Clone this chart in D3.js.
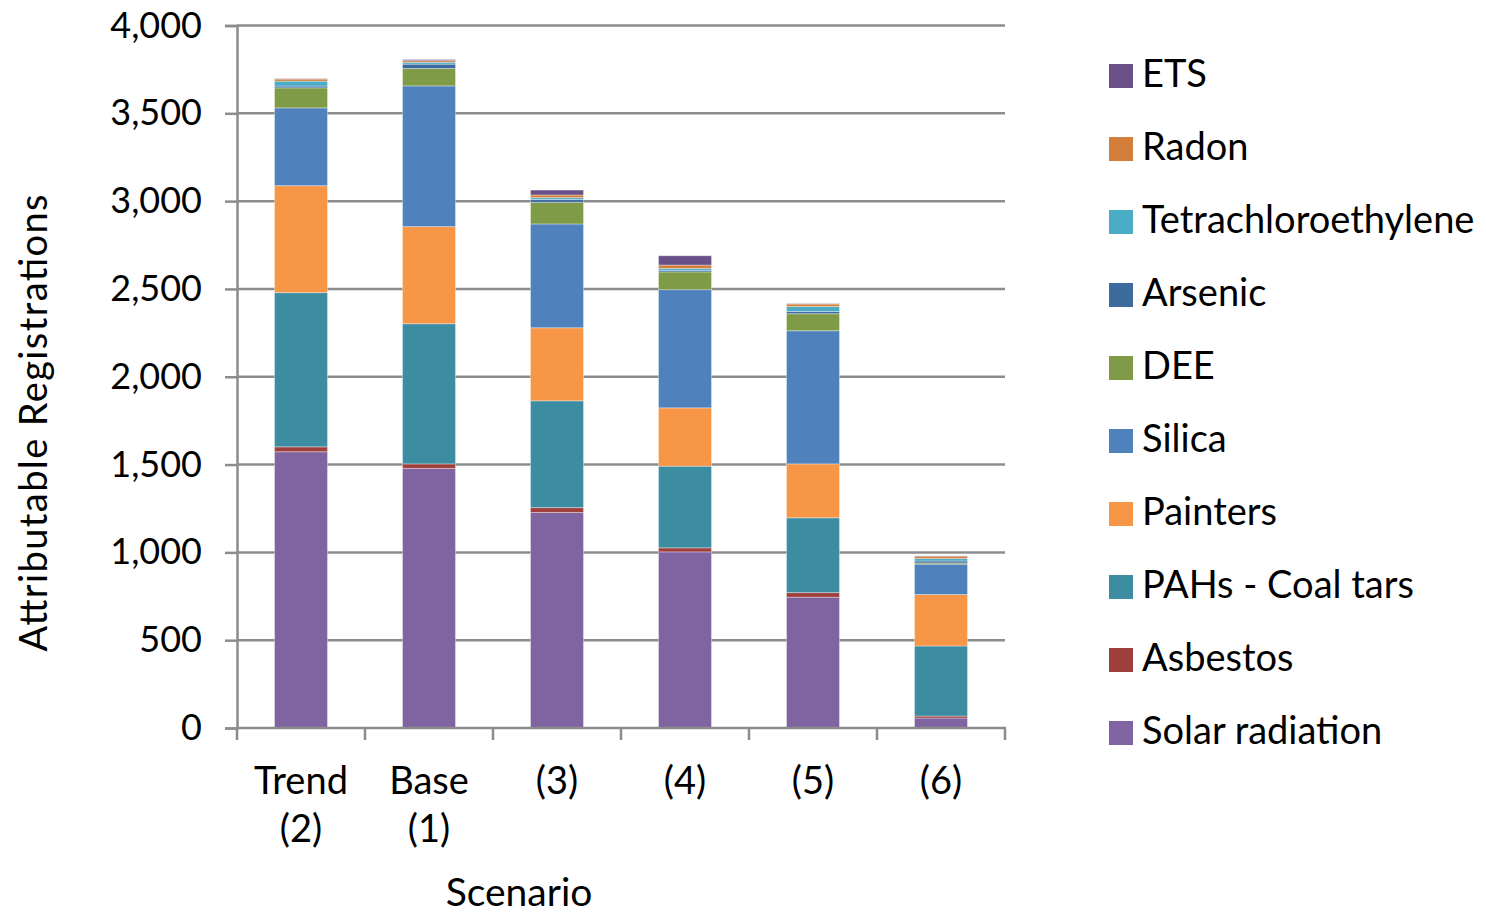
<!DOCTYPE html>
<html>
<head>
<meta charset="utf-8">
<script src="https://cdn.jsdelivr.net/npm/d3@7"></script>
<style>
  html, body { margin: 0; padding: 0; background: #fff; }
  svg { display: block; font-family: Lato, "Open Sans", sans-serif; }
</style>
</head>
<body>
<svg id="chart" width="1486" height="916"></svg>
<script>
// Scenarios along the x axis (two-line labels)
const scenarios = ["Trend (2)", "Base (1)", "(3)", "(4)", "(5)", "(6)"];
const scenarioLines = [["Trend", "(2)"], ["Base", "(1)"], ["(3)"], ["(4)"], ["(5)"], ["(6)"]];

// Attributable registrations per exposure, stacked bottom to top
const solarRadiation    = [1573, 1478, 1227, 1003, 745, 57];
const asbestos          = [28, 26, 28, 23, 26, 11];
const pahsCoalTars      = [878, 798, 608, 465, 426, 399];
const painters          = [609, 553, 416, 332, 307, 293];
const silica            = [443, 801, 591, 673, 758, 173];
const dee               = [114, 99, 123, 101, 97, 7];
const arsenic           = [10, 25, 16, 9, 13, 11];
const tetrachloroethylene = [28, 11, 11, 11, 28, 14];
const radon             = [12, 9, 15, 19, 14, 13];
const ets               = [2, 6, 28, 53, 2, 2];

const yTicks = [0, 500, 1000, 1500, 2000, 2500, 3000, 3500, 4000];

const seriesDefs = [
  { name: "Solar radiation", values: solarRadiation, color: "#8064A2" },
  { name: "Asbestos", values: asbestos, color: "#A0403D" },
  { name: "PAHs - Coal tars", values: pahsCoalTars, color: "#3C8CA2" },
  { name: "Painters", values: painters, color: "#F79646" },
  { name: "Silica", values: silica, color: "#4F81BD" },
  { name: "DEE", values: dee, color: "#7F9B48" },
  { name: "Arsenic", values: arsenic, color: "#3E6B9E" },
  { name: "Tetrachloroethylene", values: tetrachloroethylene, color: "#4BACC6" },
  { name: "Radon", values: radon, color: "#D27E3A" },
  { name: "ETS", values: ets, color: "#6A5088" }
];

const rows = scenarios.map((s, i) => {
  const r = { scenario: s };
  seriesDefs.forEach(d => { r[d.name] = d.values[i]; });
  return r;
});

const svg = d3.select("#chart");
const plot = { left: 237, right: 1005, top: 25.5, bottom: 728 };

const x = d3.scaleBand().domain(scenarios).range([plot.left, plot.right]).paddingInner(0.586).paddingOuter(0.293);
const y = d3.scaleLinear().domain([0, 4000]).range([plot.bottom, plot.top]);

const gridColor = "#8c8c8c";

// Horizontal gridlines
svg.append("g")
  .selectAll("line")
  .data(yTicks.filter(t => t > 0))
  .join("line")
  .attr("x1", plot.left).attr("x2", plot.right)
  .attr("y1", d => y(d)).attr("y2", d => y(d))
  .attr("stroke", gridColor).attr("stroke-width", 2.5);

// Stacked bars
const stack = d3.stack().keys(seriesDefs.map(d => d.name));
const layers = stack(rows);

svg.append("g")
  .selectAll("g")
  .data(layers)
  .join("g")
  .attr("fill", (d, i) => seriesDefs[i].color)
  .selectAll("rect")
  .data(d => d)
  .join("rect")
  .attr("x", d => x(d.data.scenario))
  .attr("width", x.bandwidth())
  .attr("y", d => y(d[1]))
  .attr("height", d => Math.max(0, y(d[0]) - y(d[1])))
  .attr("stroke", "rgba(255,255,255,0.35)")
  .attr("stroke-width", 1);

// Y axis
const yAxis = svg.append("g")
  .attr("transform", `translate(${plot.left},0)`)
  .call(d3.axisLeft(y).tickValues(yTicks).tickFormat(d3.format(",")).tickSize(12).tickPadding(23));
yAxis.select(".domain").attr("stroke", gridColor).attr("stroke-width", 2.5);
yAxis.selectAll(".tick line").attr("stroke", gridColor).attr("stroke-width", 2.5);
yAxis.selectAll(".tick text")
  .attr("font-size", 36).attr("fill", "#000")
  .attr("font-family", "Lato, sans-serif");

// X axis baseline with boundary ticks
const xAxisG = svg.append("g");
xAxisG.append("line")
  .attr("x1", plot.left - 1).attr("x2", plot.right + 1)
  .attr("y1", y(0)).attr("y2", y(0))
  .attr("stroke", gridColor).attr("stroke-width", 2.5);
const boundaries = scenarios.map(s => x(s) - x.step() * x.paddingInner() / 2)
  .concat([plot.right]);
boundaries[0] = plot.left;
xAxisG.selectAll("line.b")
  .data(boundaries)
  .join("line")
  .attr("class", "b")
  .attr("x1", d => d).attr("x2", d => d)
  .attr("y1", y(0)).attr("y2", y(0) + 12)
  .attr("stroke", gridColor).attr("stroke-width", 2.5);

// Category labels
scenarios.forEach((s, i) => {
  const cx = x(s) + x.bandwidth() / 2;
  scenarioLines[i].forEach((line, j) => {
    svg.append("text")
      .attr("x", cx).attr("y", 794 + j * 48)
      .attr("text-anchor", "middle")
      .attr("font-size", 38).attr("fill", "#000")
      .text(line);
  });
});

// Axis titles
svg.append("text")
  .attr("x", 519).attr("y", 906)
  .attr("text-anchor", "middle")
  .attr("font-size", 39).attr("fill", "#000")
  .text("Scenario");

svg.append("text")
  .attr("transform", "translate(47,423) rotate(-90)")
  .attr("text-anchor", "middle")
  .attr("font-size", 38).attr("fill", "#000")
  .attr("textLength", 457).attr("lengthAdjust", "spacing")
  .text("Attributable  Registrations");

// Legend, top item is the last stacked series
const legendItems = seriesDefs.slice().reverse();
const legend = svg.append("g")
  .selectAll("g")
  .data(legendItems)
  .join("g")
  .attr("transform", (d, i) => `translate(1109,${76 + i * 73})`);
legend.append("rect")
  .attr("x", 0).attr("y", -12).attr("width", 24).attr("height", 24)
  .attr("fill", d => d.color);
legend.append("text")
  .attr("x", 33).attr("y", 11)
  .attr("font-size", 38).attr("fill", "#000")
  .text(d => d.name);
</script>
</body>
</html>
